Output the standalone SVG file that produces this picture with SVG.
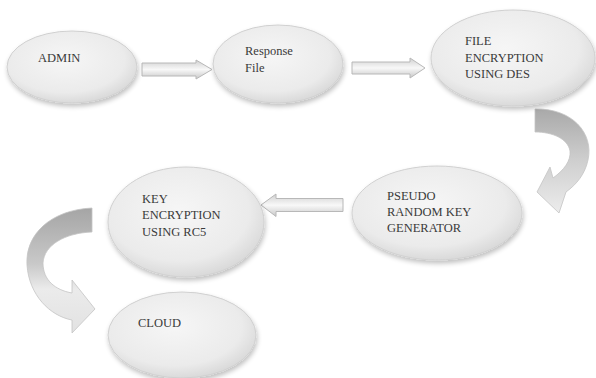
<svg xmlns="http://www.w3.org/2000/svg" width="596" height="378" viewBox="0 0 596 378">
<defs>
<radialGradient id="eg" cx="0.45" cy="0.4" r="0.65">
<stop offset="0" stop-color="#f6f6f6"/>
<stop offset="0.7" stop-color="#ebebeb"/>
<stop offset="1" stop-color="#d4d4d4"/>
</radialGradient>
<linearGradient id="ag" x1="0" y1="0" x2="0" y2="1">
<stop offset="0" stop-color="#d0d0d0"/>
<stop offset="0.5" stop-color="#f8f8f8"/>
<stop offset="1" stop-color="#c8c8c8"/>
</linearGradient>
<linearGradient id="cr" x1="0" y1="0" x2="0" y2="1">
<stop offset="0" stop-color="#a9a9a9"/>
<stop offset="0.5" stop-color="#cfcfcf"/>
<stop offset="1" stop-color="#ececec"/>
</linearGradient>
<linearGradient id="cl" x1="0" y1="0" x2="0" y2="1">
<stop offset="0" stop-color="#a5a5a5"/>
<stop offset="0.45" stop-color="#c9c9c9"/>
<stop offset="0.65" stop-color="#ebebeb"/>
<stop offset="1" stop-color="#e2e2e2"/>
</linearGradient>
<filter id="sh" x="-20%" y="-20%" width="140%" height="150%">
<feGaussianBlur in="SourceAlpha" stdDeviation="2.5"/>
<feOffset dx="1" dy="3" result="b"/>
<feComponentTransfer><feFuncA type="linear" slope="0.25"/></feComponentTransfer>
<feMerge><feMergeNode/><feMergeNode in="SourceGraphic"/></feMerge>
</filter>
</defs>
<style>
.node ellipse{fill:url(#eg);stroke:#d0d0d0;stroke-width:1;filter:url(#sh)}
.node text{font-size:12.5px;fill:#3a3a3a}
.blk{fill:url(#ag);stroke:#b8b8b8;stroke-width:1}
</style>
<rect width="596" height="378" fill="#ffffff"/>
<g id="connectors">
<path class="blk" d="M142,63 L196,63 L196,60 L212,69.5 L196,79 L196,76 L142,76 Z"/>
<path class="blk" d="M352,62 L410,62 L410,58 L425,68 L410,78 L410,74 L352,74 Z"/>
<path class="blk" d="M343,198.5 L276,198.5 L276,194 L261,205 L276,216.5 L276,211.5 L343,211.5 Z"/>
<path fill="url(#cr)" stroke="#c4c4c4" stroke-width="0.8" d="M535,109 C572,108 594,133 588,160 C585,174 577,184 566,192 L559,213 L537,192 L550,167 L553,178 C564,170 571,161 570,151 C568,139 553,132 535,132 Z"/>
<path fill="url(#cl)" stroke="#c4c4c4" stroke-width="0.8" d="M92,208 C50,210 25,235 27,265 C29,295 50,316 72,320 L72,333 L95,309 L72,280 L72,293 C55,290 43,280 43,263 C44,245 65,233 92,232 Z"/>
</g>
<g font-family="Liberation Serif, Times New Roman, DejaVu Serif, serif">
<g id="admin" class="node"><ellipse cx="72" cy="67" rx="65" ry="36"/><text x="38" y="62">ADMIN</text></g>
<g id="response" class="node"><ellipse cx="278" cy="64" rx="65" ry="39"/><text x="245" y="55">Response</text><text x="245" y="72">File</text></g>
<g id="file-enc" class="node"><ellipse cx="513" cy="58" rx="82" ry="48"/><text x="465" y="45">FILE</text><text x="465" y="62">ENCRYPTION</text><text x="465" y="78">USING DES</text></g>
<g id="prng" class="node"><ellipse cx="437" cy="213" rx="85" ry="47"/><text x="387" y="200">PSEUDO</text><text x="387" y="216">RANDOM KEY</text><text x="387" y="232">GENERATOR</text></g>
<g id="key-enc" class="node"><ellipse cx="186" cy="222" rx="78" ry="55"/><text x="142" y="203">KEY</text><text x="142" y="219">ENCRYPTION</text><text x="142" y="236">USING RC5</text></g>
<g id="cloud" class="node"><ellipse cx="182" cy="335" rx="74" ry="43"/><text x="138" y="327">CLOUD</text></g>
</g>
</svg>
